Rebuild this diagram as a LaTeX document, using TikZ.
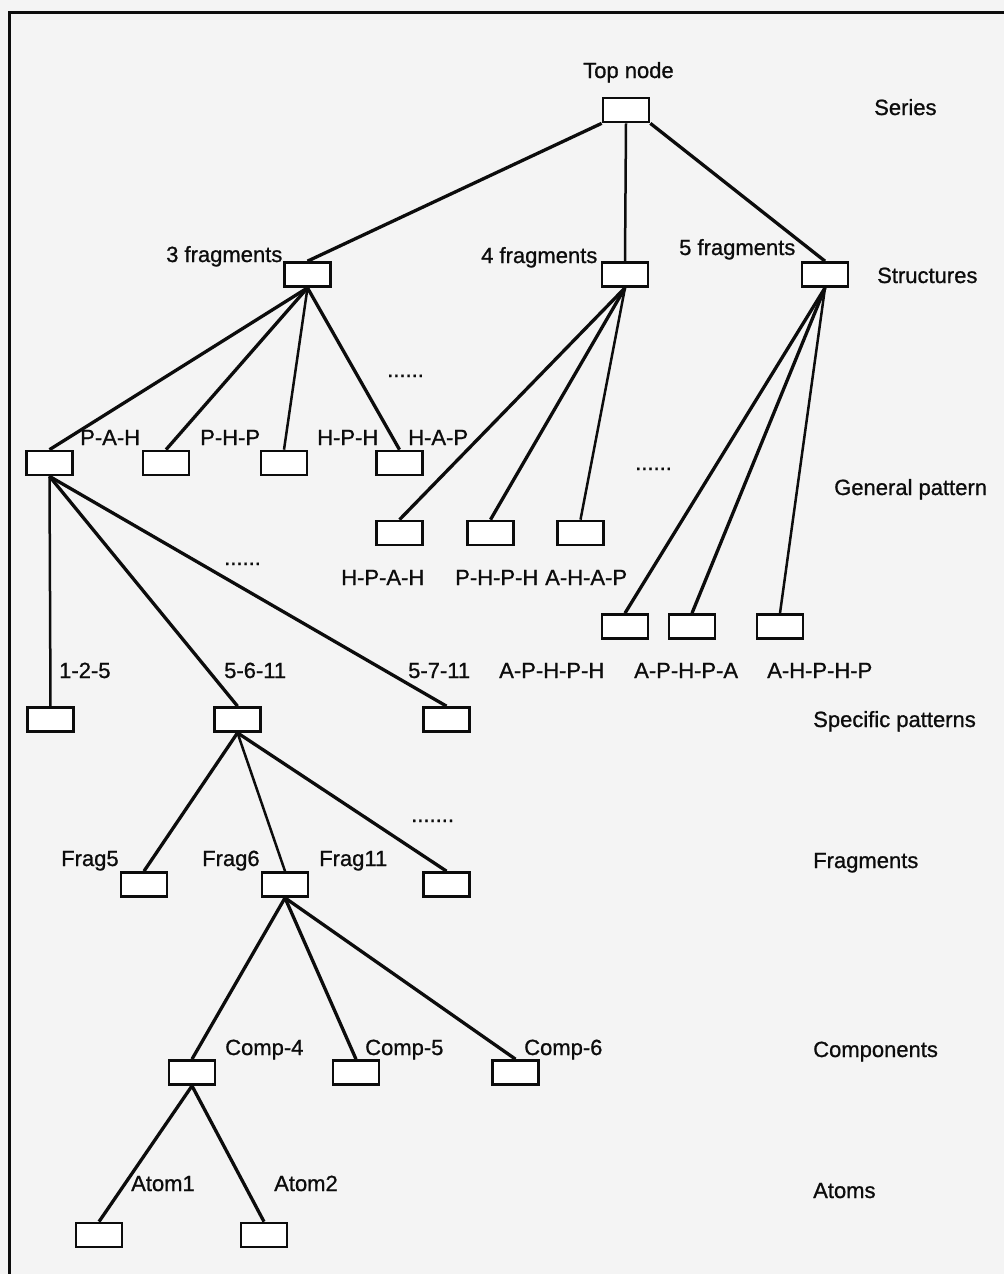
\documentclass[tikz,border=0pt]{standalone}
\usepackage{fontspec}
\setmainfont{Liberation Sans}
\newfontfamily\lblfont{Liberation Sans}[FakeBold=0.9]
\definecolor{paper}{RGB}{244,244,244}
\definecolor{ink}{RGB}{12,12,12}
\begin{document}
\begin{tikzpicture}[x=1pt,y=-1pt,
  box/.style={draw=ink,line width=2.7pt,fill=white,minimum width=46pt,minimum height=24pt,inner sep=0pt},
  lbl/.style={anchor=base west,inner sep=0pt,text=ink,font=\lblfont\fontsize{22}{26}\selectfont},
  link/.style={draw=ink,line width=3.3pt},
  vlink/.style={draw=ink,line width=2.5pt}]
% page and frame
\fill[paper] (0,0) rectangle (1004,1274);
\useasboundingbox (0,0) rectangle (1004,1274);
\draw[ink,line width=3pt] (9,1274) -- (9,12) -- (1004,12);

% level names
\node[lbl] (nSeries) at (874,115) {Series};
\node[lbl] (nStruct) at (877,283) {Structures};
\node[lbl] (nGen) at (834,495) {General pattern};
\node[lbl] (nSpec) at (813,727) {Specific patterns};
\node[lbl] (nFrag) at (813,868) {Fragments};
\node[lbl] (nComp) at (813,1057) {Components};
\node[lbl] (nAtom) at (813,1198) {Atoms};

% tree boxes
\node[box] (top) at (626,110) {};
\node[box] (s3) at (307.5,274.5) {};
\node[box] (s4) at (625,274.5) {};
\node[box] (s5) at (825,274.5) {};
\node[box] (g1) at (49.5,463) {};
\node[box] (g2) at (166,463) {};
\node[box] (g3) at (284,463) {};
\node[box] (g4) at (399.5,463) {};
\node[box] (g5) at (399.5,533) {};
\node[box] (g6) at (490.5,533) {};
\node[box] (g7) at (580.5,533) {};
\node[box] (g8) at (625,626.5) {};
\node[box] (g9) at (692,626.5) {};
\node[box] (g10) at (780,626.5) {};
\node[box] (p1) at (50.5,719.5) {};
\node[box] (p2) at (237.5,719.5) {};
\node[box] (p3) at (446.5,719.5) {};
\node[box] (f1) at (144,884.5) {};
\node[box] (f2) at (285,884.5) {};
\node[box] (f3) at (446.5,884.5) {};
\node[box] (c1) at (192,1072.5) {};
\node[box] (c2) at (356,1072.5) {};
\node[box] (c3) at (515.5,1072.5) {};
\node[box] (a1) at (99,1235) {};
\node[box] (a2) at (264,1235) {};

% connectors
\draw[link] (top.south west) -- (s3.north);
\draw[vlink] (top.south) -- (s4.north);
\draw[link] (top.south east) -- (s5.north);
\draw[link] (s3.south) -- (g1.north);
\draw[link] (s3.south) -- (g2.north);
\draw[vlink] (s3.south) -- (g3.north);
\draw[link] (s3.south) -- (g4.north);
\draw[link] (s4.south) -- (g5.north);
\draw[link] (s4.south) -- (g6.north);
\draw[vlink] (s4.south) -- (g7.north);
\draw[link] (s5.south) -- (g8.north);
\draw[link] (s5.south) -- (g9.north);
\draw[vlink] (s5.south) -- (g10.north);
\draw[vlink] (g1.south) -- (p1.north);
\draw[link] (g1.south) -- (p2.north);
\draw[link] (g1.south) -- (p3.north);
\draw[link] (p2.south) -- (f1.north);
\draw[vlink] (p2.south) -- (f2.north);
\draw[link] (p2.south) -- (f3.north);
\draw[link] (f2.south) -- (c1.north);
\draw[link] (f2.south) -- (c2.north);
\draw[link] (f2.south) -- (c3.north);
\draw[link] (c1.south) -- (a1.north);
\draw[link] (c1.south) -- (a2.north);

% node labels
\node[lbl] (tTop) at (583,78) {Top node};
\node[lbl] (t3) at (166,262) {3 fragments};
\node[lbl] (t4) at (481,263) {4 fragments};
\node[lbl] (t5) at (679,255) {5 fragments};
\node[lbl] (tPAH) at (80,445) {P-A-H};
\node[lbl] (tPHP) at (200,445) {P-H-P};
\node[lbl] (tHPH) at (317,445) {H-P-H};
\node[lbl] (tHAP) at (408,445) {H-A-P};
\node[lbl] (tHPAH) at (341,585) {H-P-A-H};
\node[lbl] (tPHPH) at (455,585) {P-H-P-H};
\node[lbl] (tAHAP) at (545,585) {A-H-A-P};
\node[lbl] (tAPHPH) at (499,678) {A-P-H-P-H};
\node[lbl] (tAPHPA) at (634,678) {A-P-H-P-A};
\node[lbl] (tAHPHP) at (767,678) {A-H-P-H-P};
\node[lbl] (t125) at (59,678) {1-2-5};
\node[lbl] (t5611) at (224,678) {5-6-11};
\node[lbl] (t5711) at (408,678) {5-7-11};
\node[lbl] (tF5) at (61,866) {Frag5};
\node[lbl] (tF6) at (202,866) {Frag6};
\node[lbl] (tF11) at (319,866) {Frag11};
\node[lbl] (tC4) at (225,1055) {Comp-4};
\node[lbl] (tC5) at (365,1055) {Comp-5};
\node[lbl] (tC6) at (524,1055) {Comp-6};
\node[lbl] (tA1) at (131,1191) {Atom1};
\node[lbl] (tA2) at (274,1191) {Atom2};

% elided siblings
\node[lbl] (d1) at (387,377) {......};
\node[lbl] (d2) at (635,470) {......};
\node[lbl] (d3) at (224,565) {......};
\node[lbl] (d4) at (411,822) {.......};
\end{tikzpicture}
\end{document}
